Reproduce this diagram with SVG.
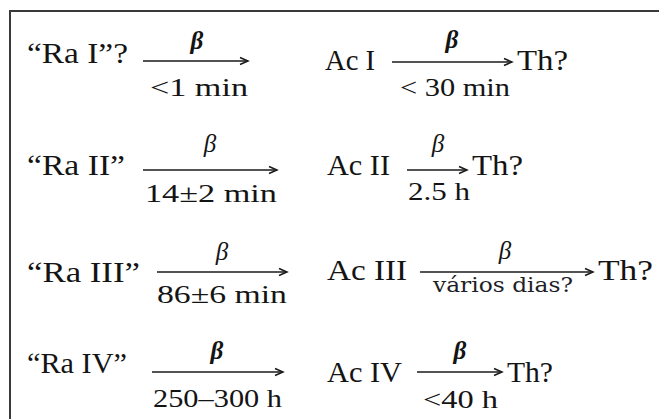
<svg xmlns="http://www.w3.org/2000/svg" width="659" height="419" viewBox="0 0 659 419">
<defs>
<style>
.t{font-family:'Liberation Serif',serif;font-size:30px;fill:#141414}
.s{font-family:'Liberation Serif',serif;font-size:25px;fill:#141414}
.b{font-family:'Liberation Serif',serif;font-size:25px;font-style:italic;fill:#141414;text-anchor:middle}
.bb{font-weight:bold}
.v{font-family:'DejaVu Serif',serif;font-size:20px;fill:#1e1e28}
.a{stroke:#1a1a1a;stroke-width:1.5;fill:none;marker-end:url(#ah)}
.f{stroke:#3a3a3a;stroke-width:2;fill:none}
</style>
<marker id="ah" markerUnits="userSpaceOnUse" markerWidth="12" markerHeight="10" refX="9" refY="5" orient="auto">
<path d="M1,1.5 L9,5 L1,8.5" fill="none" stroke="#1a1a1a" stroke-width="1.5"/>
</marker>
</defs>
<rect width="659" height="419" fill="#fff"/>
<path class="f" d="M10,419 V11 H659"/>

<g id="ra1"><text class="t" x="27" y="63" textLength="101" lengthAdjust="spacingAndGlyphs">“Ra I”?</text></g>
<g id="ac1"><text class="t" x="325" y="70" textLength="50" lengthAdjust="spacingAndGlyphs">Ac I</text></g>
<g id="th1"><text class="t" x="517" y="70" textLength="51" lengthAdjust="spacingAndGlyphs">Th?</text></g>

<g id="ra2"><text class="t" x="27" y="175" textLength="98" lengthAdjust="spacingAndGlyphs">“Ra II”</text></g>
<g id="ac2"><text class="t" x="327" y="175" textLength="63" lengthAdjust="spacingAndGlyphs">Ac II</text></g>
<g id="th2"><text class="t" x="472" y="175" textLength="51" lengthAdjust="spacingAndGlyphs">Th?</text></g>

<g id="ra3"><text class="t" x="27" y="282" textLength="113" lengthAdjust="spacingAndGlyphs">“Ra III”</text></g>
<g id="ac3"><text class="t" x="327" y="280" textLength="80" lengthAdjust="spacingAndGlyphs">Ac III</text></g>
<g id="th3"><text class="t" x="598" y="280" textLength="55" lengthAdjust="spacingAndGlyphs">Th?</text></g>

<g id="ra4"><text class="t" x="27" y="373" textLength="100" lengthAdjust="spacingAndGlyphs">“Ra IV”</text></g>
<g id="ac4"><text class="t" x="327" y="382" textLength="75" lengthAdjust="spacingAndGlyphs">Ac IV</text></g>
<g id="th4"><text class="t" x="507" y="382" textLength="46" lengthAdjust="spacingAndGlyphs">Th?</text></g>

<g id="connectors">
<line class="a" x1="143" y1="61" x2="248" y2="61"/>
<text class="b bb" x="197" y="49">β</text>
<text class="s" x="150" y="96" textLength="98" lengthAdjust="spacingAndGlyphs">&lt;1 min</text>

<line class="a" x1="392" y1="62" x2="512" y2="62"/>
<text class="b bb" x="452" y="48">β</text>
<text class="s" x="400" y="96" textLength="110" lengthAdjust="spacingAndGlyphs">&lt; 30 min</text>

<line class="a" x1="143" y1="170" x2="277" y2="170"/>
<text class="b" x="210" y="152">β</text>
<text class="s" x="145" y="202" textLength="132" lengthAdjust="spacingAndGlyphs">14±2 min</text>

<line class="a" x1="407" y1="170" x2="467" y2="170"/>
<text class="b" x="438" y="152">β</text>
<text class="s" x="408" y="200" textLength="62" lengthAdjust="spacingAndGlyphs">2.5 h</text>

<line class="a" x1="157" y1="272" x2="287" y2="272"/>
<text class="b" x="222" y="260">β</text>
<text class="s" x="157" y="303" textLength="130" lengthAdjust="spacingAndGlyphs">86±6 min</text>

<line class="a" x1="420" y1="272" x2="593" y2="272"/>
<text class="b" x="505" y="259">β</text>
<text class="v" x="433" y="292" textLength="140" lengthAdjust="spacingAndGlyphs">vários dias?</text>

<line class="a" x1="152" y1="372" x2="283" y2="372"/>
<text class="b bb" x="217" y="359">β</text>
<text class="s" x="153" y="407" textLength="129" lengthAdjust="spacingAndGlyphs">250–300 h</text>

<line class="a" x1="417" y1="372" x2="502" y2="372"/>
<text class="b bb" x="460" y="359">β</text>
<text class="s" x="423" y="408" textLength="75" lengthAdjust="spacingAndGlyphs">&lt;40 h</text>
</g>
</svg>
